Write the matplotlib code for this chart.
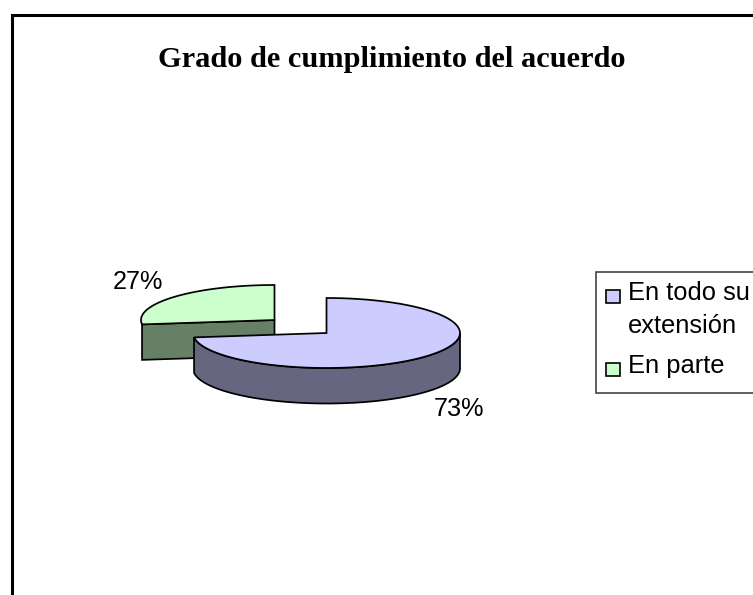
import numpy as np
import matplotlib
matplotlib.use("Agg")
import matplotlib.pyplot as plt
from matplotlib.patches import Polygon, Rectangle

# data
title = "Grado de cumplimiento del acuerdo"
categories = ["En todo su\nextensión", "En parte"]
values = [73, 27]
face_colors = ["#CCCCFF", "#CCFFCC"]
side_colors = ["#666680", "#668066"]

# pie geometry, in pixels of the 753x595 picture
RX, RY, DEPTH = 133.5, 35, 35.5
CENTERS = [(326.5, 333), (274.5, 320)]
EDGE = 1.25


def rim(cx, cy, start, end, n=80):
    # angles clockwise from 12 o'clock, like the old office pies
    t = np.radians(np.linspace(start, end, n))
    return np.column_stack([cx + RX * np.sin(t), cy - RY * np.cos(t)])


fig = plt.figure(figsize=(7.53, 5.95), dpi=100)
ax = fig.add_axes([0, 0, 1, 1])
ax.set_xlim(0, 753)
ax.set_ylim(595, 0)
ax.axis("off")

# chart frame, runs off the right and bottom edge
ax.plot([12.5, 12.5, 753], [595, 14.5, 14.5], color="black", lw=2.2, solid_joinstyle="miter")

# slice angles from the values
split = 360 * values[0] / sum(values)
blue_c, green_c = CENTERS

# green slice goes first, the blue one covers it
g_rim = rim(green_c[0], green_c[1], split, 360)
g_tip = np.array([green_c])
side = np.vstack([g_rim[0], g_tip, g_tip + [0, DEPTH], g_rim[0] + [0, DEPTH]])
ax.add_patch(Polygon(side, fc=side_colors[1], ec="black", lw=EDGE))
ax.add_patch(Polygon(np.vstack([g_tip, g_rim]), fc=face_colors[1], ec="black", lw=EDGE))

# blue slice
b_rim = rim(blue_c[0], blue_c[1], 90, split)
side = np.vstack([b_rim, b_rim[::-1] + [0, DEPTH]])
ax.add_patch(Polygon(side, fc=side_colors[0], ec="black", lw=EDGE))
b_top = np.vstack([[blue_c], rim(blue_c[0], blue_c[1], 0, split)])
ax.add_patch(Polygon(b_top, fc=face_colors[0], ec="black", lw=EDGE))

# texts
ax.text(391.5, 67, title, ha="center", va="baseline", fontsize=21.9, fontweight="bold",
        family="Liberation Serif")
ax.text(138, 289, f"{values[1]}%", ha="center", va="baseline", fontsize=18.2, family="Liberation Sans")
ax.text(459, 416, f"{values[0]}%", ha="center", va="baseline", fontsize=18.2, family="Liberation Sans")

# legend by hand, it is clipped by the picture edge like the original
ax.add_patch(Rectangle((596, 272), 200, 121, fc="white", ec="#444444", lw=1.2))
for label, y, base, color in zip(categories, [296, 369], [300, 373], face_colors):
    ax.add_patch(Rectangle((606, y - 6.5), 14, 13, fc=color, ec="black", lw=1.2))
    ax.text(628, base, label.split("\n")[0], ha="left", va="baseline", fontsize=18.4,
            family="Liberation Sans")
    if "\n" in label:
        ax.text(628, base + 33, label.split("\n")[1], ha="left", va="baseline", fontsize=18.4,
                family="Liberation Sans")

fig.savefig("out.png", dpi=100)
